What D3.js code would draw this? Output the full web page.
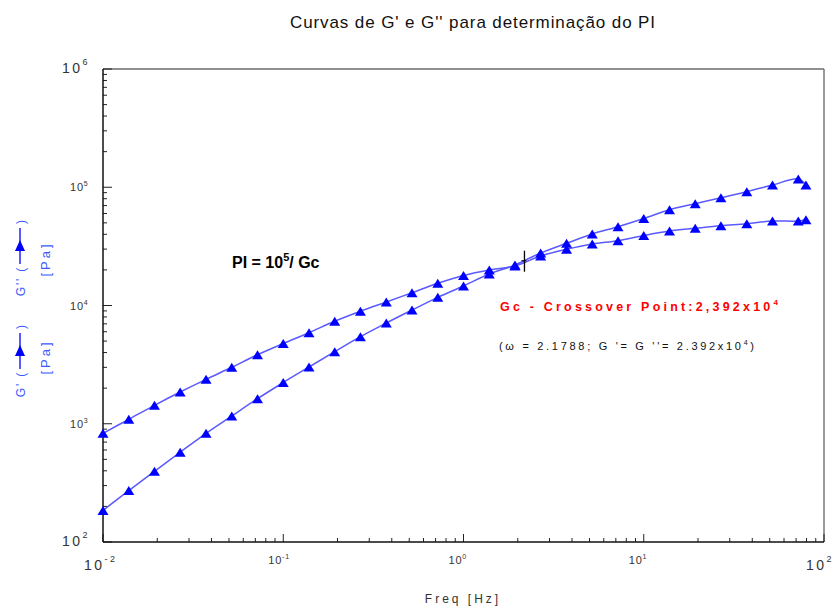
<!DOCTYPE html>
<html><head><meta charset="utf-8">
<script src="https://cdn.jsdelivr.net/npm/d3@7"></script>
<style>body{margin:0;background:#fff;} svg{display:block;}</style>
</head><body>
<svg id="c" width="834" height="606"></svg>
<script>
const freq = [0.01,0.0139,0.0193,0.0268,0.0373,0.0518,0.0720,0.1,0.139,0.193,0.268,0.373,0.518,0.720,1.0,1.39,1.93,2.68,3.73,5.18,7.20,10.0,13.9,19.3,26.8,37.3,51.8,72.0,79.4];
const gStorage = [185,272,396,574,830,1163,1628,2233,3020,4067,5447,7112,9160,11730,14620,18470,22000,27800,33570,40240,46390,54410,64580,72590,81560,91700,104500,117500,104500];
const gLoss = [830,1090,1432,1856,2376,3002,3836,4771,5888,7353,8931,10706,12835,15403,17939,19962,21580,26220,29880,33130,35320,39080,42660,44980,47300,49170,51830,51830,53160];
const crossover = {freq:2.1788, g:23920};
const xTickExps = [-2,-1,0,1,2];
const yTickExps = [2,3,4,5,6];
const title = "Curvas de G' e G'' para determinação do PI";
const xLabel = "Freq [Hz]";

const svg = d3.select("#c");
const L=103,R=824,T=69,B=542;
const x = d3.scaleLog().domain([0.01,100]).range([L,R]);
const y = d3.scaleLog().domain([100,1e6]).range([B,T]);
const ff = "Liberation Sans, Arial, sans-serif";

// title
svg.append("text").attr("x",473).attr("y",28).attr("text-anchor","middle")
  .attr("font-family",ff).attr("font-size",17).attr("letter-spacing",0.9).attr("fill","#111").text(title);

// frame
svg.append("line").attr("x1",L).attr("x2",R).attr("y1",T).attr("y2",T).attr("stroke","#222").attr("stroke-width",1.2);
svg.append("line").attr("x1",R).attr("x2",R).attr("y1",T).attr("y2",B).attr("stroke","#777").attr("stroke-width",1.5);

// inward ticks
const minor = [];
for (let e=-2;e<2;e++) for (let m=2;m<=9;m++) minor.push(m*Math.pow(10,e));
const yMinor = [];
for (let e=2;e<6;e++) for (let m=2;m<=9;m++) yMinor.push(m*Math.pow(10,e));

const gx = svg.append("g");
gx.selectAll("line.mi").data(minor).join("line").attr("x1",d=>x(d)).attr("x2",d=>x(d)).attr("y1",B).attr("y2",B-4).attr("stroke","#222");
gx.selectAll("line.ma").data(xTickExps).join("line").attr("x1",d=>x(Math.pow(10,d))).attr("x2",d=>x(Math.pow(10,d))).attr("y1",B).attr("y2",B-8).attr("stroke","#222");
const gy = svg.append("g");
gy.selectAll("line.mi").data(yMinor).join("line").attr("y1",d=>y(d)).attr("y2",d=>y(d)).attr("x1",L).attr("x2",L+4).attr("stroke","#222");
gy.selectAll("line.ma").data(yTickExps).join("line").attr("y1",d=>y(Math.pow(10,d))).attr("y2",d=>y(Math.pow(10,d))).attr("x1",L).attr("x2",L+9).attr("stroke","#222");

svg.append("line").attr("x1",L).attr("x2",R).attr("y1",B).attr("y2",B).attr("stroke","#111").attr("stroke-width",1.5);
svg.append("line").attr("x1",L).attr("x2",L).attr("y1",T).attr("y2",B).attr("stroke","#111").attr("stroke-width",1.5);

// tick labels
function powLabel(px, py, e, big){
  const t = svg.append("text").attr("x",px).attr("y",py).attr("text-anchor","start")
    .attr("font-family",ff).attr("fill","#333")
    .attr("font-size", big?14:11).attr("letter-spacing", big?2.5:0.8);
  t.append("tspan").text("10");
  t.append("tspan").attr("dy", big?-8:-5).attr("font-size", big?9:7).text(String(e));
  return t;
}
xTickExps.forEach(e=>{
  const big = (e===-2||e===2);
  const px = x(Math.pow(10,e));
  if (big) powLabel(e===2?px-18:px-19, 570, e, true);
  else powLabel(px-15, 564, e, false);
});
yTickExps.forEach(e=>{
  const big = (e===2||e===6);
  const py = y(Math.pow(10,e));
  if (big) powLabel(62, py+4, e, true);
  else powLabel(70, py+4, e, false);
});

// lines
const line = d3.line().x(d=>x(d[0])).y(d=>y(d[1])).curve(d3.curveCatmullRom.alpha(0.5));
const sS = freq.map((f,i)=>[f,gStorage[i]]);
const sL = freq.map((f,i)=>[f,gLoss[i]]);
[sS,sL].forEach(s=>{
  svg.append("path").attr("d",line(s)).attr("fill","none").attr("stroke","#5a5aff").attr("stroke-width",1.5);
});
const tri = (cx,cy)=>`M${cx-5.5},${cy+4.5}L${cx+5.5},${cy+4.5}L${cx},${cy-4.5}Z`;
[sS,sL].forEach(s=>{
  svg.append("g").selectAll("path").data(s).join("path")
    .attr("d",d=>tri(x(d[0]),y(d[1]))).attr("fill","#0000ff");
});

// crossover marker
const cx0 = x(crossover.freq), cy0 = y(crossover.g);
svg.append("line").attr("x1",cx0).attr("x2",cx0).attr("y1",cy0-10).attr("y2",cy0+11).attr("stroke","#000").attr("stroke-width",1.3);
svg.append("line").attr("x1",cx0-3).attr("x2",cx0+2).attr("y1",cy0).attr("y2",cy0).attr("stroke","#000").attr("stroke-width",1);

// annotations
const pi = svg.append("text").attr("x",232).attr("y",268).attr("font-family",ff).attr("font-weight","bold").attr("font-size",16).attr("fill","#000");
pi.append("tspan").text("PI = 10");
pi.append("tspan").attr("dy",-7).attr("font-size",11).text("5");
pi.append("tspan").attr("dy",7).text("/ Gc");

const gc = svg.append("text").attr("x",500).attr("y",311).attr("font-family",ff).attr("font-weight","bold").attr("font-size",12.5).attr("letter-spacing",3.2).attr("fill","#ff0000");
gc.append("tspan").text("Gc - Crossover Point:2,392x10");
gc.append("tspan").attr("dy",-6).attr("font-size",8).text("4");

const om = svg.append("text").attr("x",499).attr("y",350).attr("font-family",ff).attr("font-size",11).attr("letter-spacing",2.7).attr("fill","#111");
om.append("tspan").text("(ω = 2.1788; G '= G ''= 2.392x10");
om.append("tspan").attr("dy",-5).attr("font-size",7).text("4");
om.append("tspan").attr("dy",5).text(")");

// x label
svg.append("text").attr("x",463).attr("y",603).attr("text-anchor","middle").attr("font-family",ff).attr("font-size",12).attr("letter-spacing",3).attr("fill","#333").text(xLabel);

// y label (rotated, blue)
const blue = "#3a5cff";
function yLabelGroup(symC, paC, name){
  const g = svg.append("g");
  g.append("text").attr("transform",`translate(25,${symC+20}) rotate(-90)`).attr("text-anchor","end")
    .attr("font-family",ff).attr("font-size",12).attr("letter-spacing",1.8).attr("fill",blue).text(name+" (");
  g.append("text").attr("transform",`translate(25,${symC-22}) rotate(-90)`).attr("text-anchor","start")
    .attr("font-family",ff).attr("font-size",12).attr("fill",blue).text(")");
  g.append("line").attr("x1",20).attr("x2",20).attr("y1",symC+18).attr("y2",symC-18).attr("stroke","#0000ff").attr("stroke-width",1.3);
  g.append("path").attr("d",`M${15},${symC+5}L${25},${symC+5}L${20},${symC-6}Z`).attr("fill","#0000ff");
  g.append("text").attr("transform",`translate(50,${paC}) rotate(-90)`).attr("text-anchor","middle")
    .attr("font-family",ff).attr("font-size",13).attr("letter-spacing",3).attr("fill",blue).text("[Pa]");
}
yLabelGroup(351,357,"G'");
yLabelGroup(246,259,"G''");
</script>
</body></html>
